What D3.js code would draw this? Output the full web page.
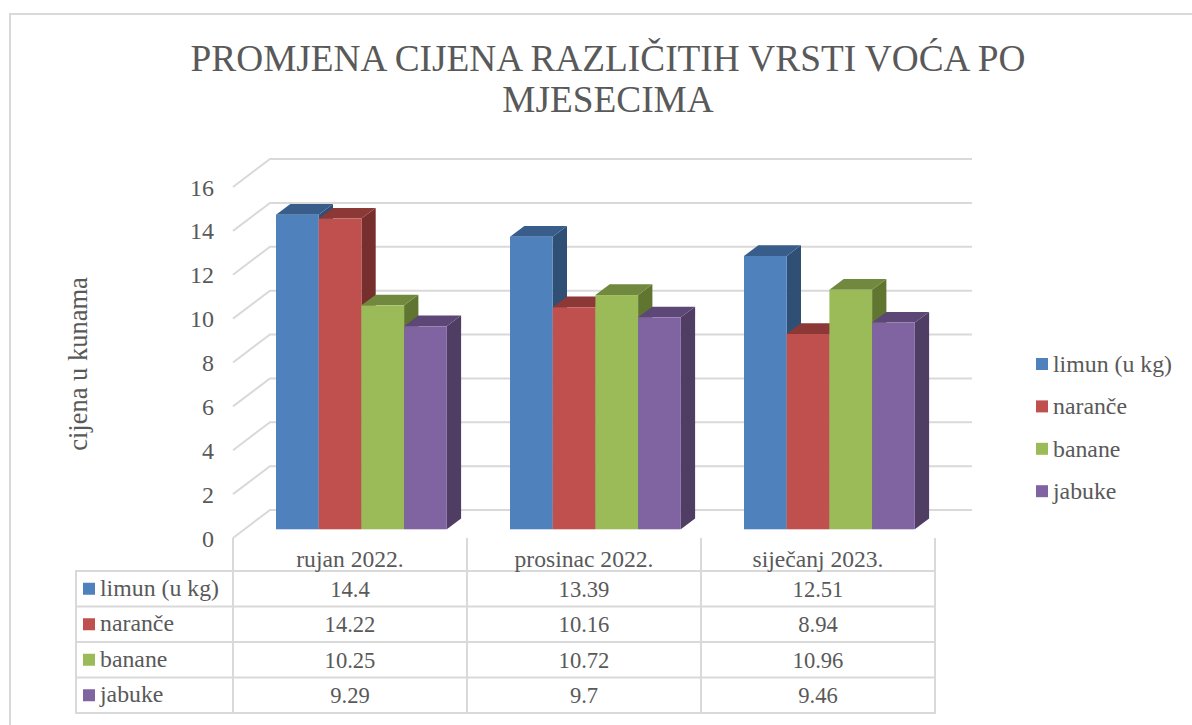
<!DOCTYPE html>
<html><head><meta charset="utf-8">
<script src="https://cdn.jsdelivr.net/npm/d3@7"></script>
<style>html,body{margin:0;padding:0;background:#fff;overflow:hidden}svg{display:block}text{font-family:"Liberation Serif",serif;fill:#595959}</style>
</head><body><svg id="c" width="1192" height="725"></svg>
<script>
const categories = ["rujan 2022.", "prosinac 2022.", "siječanj 2023."];
const seriesNames = ["limun (u kg)", "naranče", "banane", "jabuke"];
const limun = [14.4, 13.39, 12.51];
const naranche = [14.22, 10.16, 8.94];
const banane = [10.25, 10.72, 10.96];
const jabuke = [9.29, 9.7, 9.46];
const tickLabels = [0, 2, 4, 6, 8, 10, 12, 14, 16];
const colors = ["#4f81bd", "#c0504d", "#9bbb59", "#8064a2"];
const topColors = ["#385d8a", "#8c3836", "#71893f", "#5c4776"];
const sideColors = ["#2f4f75", "#772f2d", "#5f7530", "#4f3d64"];
const title = ["PROMJENA CIJENA RAZLIČITIH VRSTI VOĆA PO", "MJESECIMA"];
const yTitle = "cijena u kunama";
const allSeries = [limun, naranche, banane, jabuke];

const svg = d3.select("#c");
const grid = "#d9d9d9";
svg.append("path").attr("fill","none").attr("stroke",grid).attr("stroke-width",2)
  .attr("d",d3.line()([[10,725],[10,14],[1192,14]]));

svg.selectAll(".t").data(title).join("text").attr("x",608).attr("y",(d,i)=>71+i*41)
  .attr("text-anchor","middle").attr("font-size",37.3).text(d=>d);

const frontY = d3.scaleLinear().domain([0,16]).range([538,187]);
const backDx = 37, backDy = -28;
const x0 = d3.scaleBand().domain(categories).range([233,935]);
const xEnd = 972;

const g = svg.append("g");
tickLabels.forEach(v=>{
  const y = frontY(v);
  g.append("path").attr("fill","none").attr("stroke",grid).attr("stroke-width",2)
    .attr("d",d3.line()([[x0.range()[0],y],[x0.range()[0]+backDx,y+backDy],[xEnd,y+backDy]]));
});
svg.selectAll(".yl").data(tickLabels).join("text").attr("x",214).attr("y",d=>frontY(d)+8.5)
  .attr("text-anchor","end").attr("font-size",24).text(d=>d);

svg.append("text").attr("transform","translate(87,364) rotate(-90)").attr("text-anchor","middle")
  .attr("font-size",26.5).text(yTitle);

// bars
const barW = 42.7, dep = 14.3, depY = 10.7;
const groupStart = c => x0(c)+43;
const bx = d3.scaleBand().domain(d3.range(4)).range([0,barW*4]);
const barY = d3.scaleLinear().domain([0,16]).range([529.3,179.7]);
categories.forEach((c,ci)=>{
  allSeries.forEach((s,si)=>{
    const x = groupStart(c)+bx(si), y = barY(s[ci]), yb = barY(0), w = bx.bandwidth();
    const b = g.append("g");
    b.append("path").attr("fill",sideColors[si]).attr("d",d3.line()([[x+w,y],[x+w+dep,y-depY],[x+w+dep,yb-depY],[x+w,yb]]));
    b.append("path").attr("fill",topColors[si]).attr("d",d3.line()([[x,y],[x+dep,y-depY],[x+w+dep,y-depY],[x+w,y]]));
    b.append("rect").attr("x",x).attr("y",y).attr("width",w).attr("height",yb-y).attr("fill",colors[si]);
  });
});

// data table
const rowY = d3.scaleBand().domain(d3.range(4)).range([571,713]);
const tblL = 76;
const line=(x1,y1,x2,y2)=>svg.append("line").attr("x1",x1).attr("y1",y1).attr("x2",x2).attr("y2",y2).attr("stroke",grid).attr("stroke-width",2);
d3.range(5).forEach(i=>{const y=571+i*rowY.step();line(tblL,y,935,y);});
line(tblL,570,tblL,714);
[...categories.map(c=>x0(c)),935].forEach(x=>line(x,538,x,714));
categories.forEach(c=>{
  svg.append("text").attr("x",x0(c)+x0.bandwidth()/2).attr("y",567).attr("text-anchor","middle").attr("font-size",23.6).text(c);
});
seriesNames.forEach((n,si)=>{
  const y = rowY(si)+rowY.step()/2;
  svg.append("rect").attr("x",83).attr("y",y-6).attr("width",12).attr("height",12).attr("fill",colors[si]);
  svg.append("text").attr("x",100).attr("y",y+7).attr("font-size",23.8).text(n);
  categories.forEach((c,ci)=>{
    svg.append("text").attr("x",x0(c)+x0.bandwidth()/2).attr("y",y+8).attr("text-anchor","middle").attr("font-size",22.6).text(allSeries[si][ci]);
  });
});
// legend
seriesNames.forEach((n,si)=>{
  const y = 364+si*42.4;
  svg.append("rect").attr("x",1036).attr("y",y-6).attr("width",12).attr("height",12).attr("fill",colors[si]);
  svg.append("text").attr("x",1053).attr("y",y+8).attr("font-size",23.8).text(n);
});
</script></body></html>
